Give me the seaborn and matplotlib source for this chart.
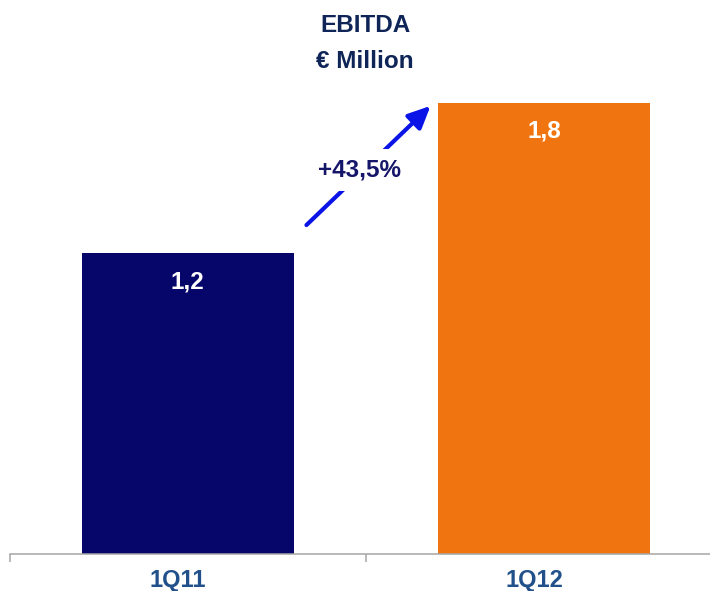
import matplotlib
matplotlib.use("Agg")
import matplotlib.pyplot as plt
import matplotlib.transforms as mtransforms
from matplotlib.patches import FancyArrowPatch
import seaborn as sns
import pandas as pd

# EBITDA by quarter, € million
quarters = ["1Q11", "1Q12"]
ebitda = [1.2, 1.8]
value_labels = ["1,2", "1,8"]
bar_colors = ["#05056A", "#F07511"]
growth_label = "+43,5%"

sns.set_theme(style="white")
plt.rcParams["font.family"] = ["Liberation Sans", "DejaVu Sans"]

df = pd.DataFrame({"quarter": quarters, "ebitda": ebitda})

fig = plt.figure(figsize=(7.1, 5.91), dpi=100)
ax = fig.add_axes([9.5 / 710, 1 - 553.5 / 591, 1 - 9.5 / 710, 553.5 / 591])

sns.barplot(data=df, x="quarter", y="ebitda", hue="quarter",
            palette=bar_colors, width=0.594, legend=False, ax=ax,
            saturation=1, edgecolor="none")

ax.set_xlim(-0.497, 1.465)
ax.set_ylim(0, 2.211)
ax.set_xlabel("")
ax.set_ylabel("")
ax.set_yticks([])

for side in ("left", "right", "top"):
    ax.spines[side].set_visible(False)
ax.spines["bottom"].set_color("#A6A6A6")
ax.spines["bottom"].set_linewidth(1.1)

# category labels, boundary ticks between categories
ax.set_xticks([0, 1])
ax.set_xticklabels(quarters, fontsize=17, fontweight="bold", color="#21508A")
ax.tick_params(axis="x", which="major", length=0, pad=11)
ax.set_xticks([-0.5, 0.5], minor=True)
ax.tick_params(axis="x", which="minor", length=5.5, width=1.1, color="#A6A6A6",
               bottom=True)
shift = mtransforms.ScaledTranslation(-10 / 100, 0, fig.dpi_scale_trans)
for lbl in ax.get_xticklabels():
    lbl.set_transform(lbl.get_transform() + shift)

# values inside the bars
for i, (v, lab) in enumerate(zip(ebitda, value_labels)):
    ax.annotate(lab, (i, v), xytext=(0, -20.5), textcoords="offset points",
                ha="center", va="center", fontsize=17.5, fontweight="bold",
                color="white")

# growth arrow
arrow_start = (0.333, 1.312)
arrow_end = (0.681, 1.788)
arrow = FancyArrowPatch(arrow_start, arrow_end,
                        arrowstyle="-|>,head_length=0.9,head_width=0.42",
                        mutation_scale=15, lw=3, color="#0A14E6",
                        shrinkA=0, shrinkB=0, zorder=3)
ax.add_patch(arrow)
ax.text(0.482, 1.532, growth_label, ha="center", va="center", fontsize=17.5,
        fontweight="bold", color="#15156A", zorder=4,
        bbox=dict(boxstyle="square,pad=0.38", facecolor="white",
                  edgecolor="none"))

# title
fig.text(365 / 710, 1 - 25.5 / 591, "EBITDA", ha="center", va="center",
         fontsize=17.5, fontweight="bold", color="#0F2558")
fig.text(365 / 710, 1 - 61 / 591, "€ Million", ha="center", va="center",
         fontsize=17.5, fontweight="bold", color="#0F2558")

fig.savefig("out.png", dpi=100)
